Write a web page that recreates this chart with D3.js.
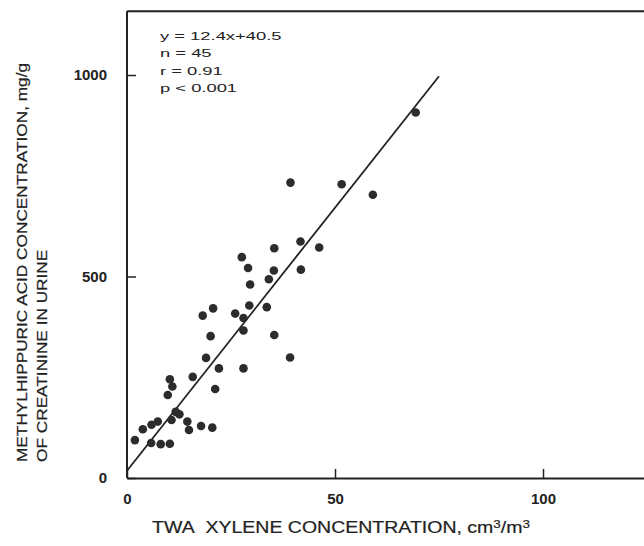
<!DOCTYPE html>
<html>
<head>
<meta charset="utf-8">
<script src="https://cdn.jsdelivr.net/npm/d3@7"></script>
<style>
  body { margin: 0; background: #fff; }
  text { fill: #222; }
</style>
</head>
<body>
<script>
'use strict';

// xylene exposure (cm3/m3) vs methylhippuric acid (mg/g creatinine)
const xylene = [39.3, 51.6, 59.1, 69.4, 41.7, 35.4, 46.2, 27.6, 29.1, 35.3,
  41.8, 34.1, 29.6, 20.7, 18.2, 26.0, 28.0, 29.4, 33.6, 20.1,
  28.0, 35.4, 39.2, 19.0, 22.1, 28.0, 15.8, 10.3, 10.9, 9.8,
  21.2, 11.7, 10.7, 14.5, 7.4, 5.9, 3.8, 14.9, 17.8, 20.5,
  1.9, 5.8, 8.1, 10.3, 12.6];
const mhippuric = [733, 729, 703, 907, 587, 570, 572, 548, 521, 515,
  517, 493, 480, 421, 403, 408, 397, 428, 424, 352,
  366, 355, 299, 298, 272, 272, 251, 245, 227, 206,
  221, 164, 144, 140, 140, 132, 121, 119, 129, 125,
  94, 87, 84, 85, 158];

// regression line as drawn (end points)
const fitX = [0, 75];
const fitY = [18, 997];

const xTicks = [0, 50, 100];
const yTicks = [0, 500, 1000];
const statLines = ["y = 12.4x+40.5", "n = 45", "r = 0.91", "p < 0.001"];

const width = 644, height = 546;

const svg = d3.select("body").append("svg")
    .attr("width", width)
    .attr("height", height)
    .style("font-family", "'Liberation Sans', Arial, sans-serif");

// Set the ranges
const x = d3.scaleLinear().domain([0, 125]).range([127, 647]);
const y = d3.scaleLinear().domain([0, 1000]).range([478, 75]);

// frame: top line
svg.append("line")
    .attr("x1", x(0)).attr("x2", width)
    .attr("y1", y(1158)).attr("y2", y(1158))
    .style("stroke", "#222").style("stroke-width", 2);

// X axis, ticks pointing into the plot
const xAxis = svg.append("g")
    .attr("transform", "translate(0," + y(0) + ")")
    .call(d3.axisBottom(x).tickValues(xTicks).tickFormat(d3.format("d"))
        .tickSizeInner(-9).tickSizeOuter(0).tickPadding(15));
xAxis.select(".domain").style("stroke", "#222").style("stroke-width", 2);
xAxis.selectAll(".tick line").style("stroke", "#222").style("stroke-width", 1.5);
xAxis.selectAll(".tick text")
    .style("font-weight", "bold")
    .style("font-size", "15px")
    .style("fill", "#222");

// Y axis
const yAxis = svg.append("g")
    .attr("transform", "translate(" + x(0) + ",0)")
    .call(d3.axisLeft(y).tickValues(yTicks).tickFormat(d3.format("d"))
        .tickSizeInner(-9).tickSizeOuter(0).tickPadding(20));
yAxis.select(".domain").attr("d", "M0," + y(0) + "V" + y(1158))
    .style("stroke", "#222").style("stroke-width", 2);
yAxis.selectAll(".tick line").style("stroke", "#222").style("stroke-width", 1.5);
yAxis.selectAll(".tick text")
    .style("font-weight", "bold")
    .style("font-size", "15px")
    .style("fill", "#222");

// fitted line
svg.append("path")
    .datum(d3.zip(fitX, fitY))
    .attr("d", d3.line().x(d => x(d[0])).y(d => y(d[1])))
    .style("stroke", "#222")
    .style("stroke-width", 1.8)
    .style("fill", "none");

// points
svg.selectAll("circle")
    .data(d3.zip(xylene, mhippuric))
    .enter()
    .append("circle")
    .attr("r", 4.3)
    .attr("cx", d => x(d[0]))
    .attr("cy", d => y(d[1]))
    .style("fill", "#2a2d2c");

// statistics box (wide lettering in the original)
svg.append("g")
    .attr("transform", "translate(160,0) scale(1.75,1)")
    .selectAll("text")
    .data(statLines)
    .enter()
    .append("text")
    .attr("x", 0)
    .attr("y", (d, i) => 40 + i * 17.3)
    .style("font-size", "10.5px")
    .text(d => d);

// axis titles
svg.append("g")
    .attr("transform", "translate(341,533) scale(1.22,1)")
  .append("text")
    .attr("text-anchor", "middle")
    .style("font-size", "16px")
    .style("stroke", "#222").style("stroke-width", 0.2)
    .html("TWA&#160; XYLENE CONCENTRATION, cm<tspan dy='-5' font-size='11px'>3</tspan><tspan dy='5'>/m</tspan><tspan dy='-5' font-size='11px'>3</tspan>");

const ylab = svg.append("g")
    .attr("transform", "translate(0,462) rotate(-90) scale(1.19,1)");
ylab.append("text")
    .attr("x", 0).attr("y", 27)
    .style("font-size", "14.5px")
    .style("stroke", "#222").style("stroke-width", 0.2)
    .text("METHYLHIPPURIC ACID CONCENTRATION, mg/g");
ylab.append("text")
    .attr("x", 0).attr("y", 47)
    .style("font-size", "14.5px")
    .style("stroke", "#222").style("stroke-width", 0.2)
    .text("OF CREATININE IN URINE");
</script>
</body>
</html>
